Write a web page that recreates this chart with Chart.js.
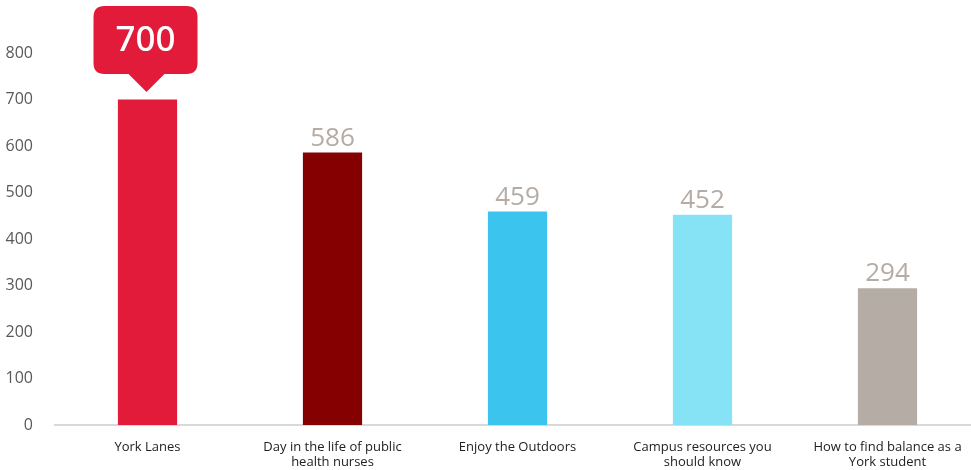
<!DOCTYPE html>
<html>
<head>
<meta charset="utf-8">
<script src="https://cdn.jsdelivr.net/npm/chart.js@4.4.0/dist/chart.umd.min.js"></script>
<style>
  body { margin: 0; overflow: hidden; background: #fff; }
</style>
</head>
<body>
<canvas id="views" width="980" height="470"></canvas>
<script>
// data
const categories = [
  "York Lanes",
  ["Day in the life of public", "health nurses"],
  "Enjoy the Outdoors",
  ["Campus resources you", "should know"],
  ["How to find balance as a", "York student"]
];
const views = [700, 586, 459, 452, 294];
const barColors = ["#e31b3b", "#850000", "#3bc4ee", "#86e2f5", "#b5aca6"];
const yTicks = [0, 100, 200, 300, 400, 500, 600, 700, 800];

const FONT = "'Open Sans', 'Noto Sans', sans-serif";

// labels above the bars, the top one gets the red callout
const valueLabels = {
  id: "valueLabels",
  afterDatasetsDraw(chart) {
    const ctx = chart.ctx;
    const meta = chart.getDatasetMeta(0);
    const max = Math.max(...views);
    meta.data.forEach((bar, i) => {
      const v = views[i];
      ctx.save();
      ctx.textAlign = "center";
      if (v === max) {
        const w = 104, h = 68, r = 11;
        const x0 = bar.x - w / 2 - 2, y0 = 6;
        ctx.fillStyle = "#e31b3b";
        ctx.beginPath();
        ctx.moveTo(x0 + r, y0);
        ctx.lineTo(x0 + w - r, y0);
        ctx.quadraticCurveTo(x0 + w, y0, x0 + w, y0 + r);
        ctx.lineTo(x0 + w, y0 + h - r);
        ctx.quadraticCurveTo(x0 + w, y0 + h, x0 + w - r, y0 + h);
        ctx.lineTo(bar.x + 17, y0 + h);
        ctx.lineTo(bar.x - 1, y0 + h + 18);
        ctx.lineTo(bar.x - 19, y0 + h);
        ctx.lineTo(x0 + r, y0 + h);
        ctx.quadraticCurveTo(x0, y0 + h, x0, y0 + h - r);
        ctx.lineTo(x0, y0 + r);
        ctx.quadraticCurveTo(x0, y0, x0 + r, y0);
        ctx.closePath();
        ctx.fill();
        ctx.fillStyle = "#ffffff";
        ctx.font = "500 35px 'Noto Sans', sans-serif";
        ctx.textBaseline = "middle";
        ctx.fillText(String(v), bar.x - 2, y0 + h / 2 + 1);
      } else {
        ctx.fillStyle = "#b5aca6";
        ctx.font = "26px " + FONT;
        ctx.textBaseline = "alphabetic";
        ctx.fillText(String(v), bar.x, bar.y - 7);
      }
      ctx.restore();
    });
  }
};

new Chart(document.getElementById("views"), {
  type: "bar",
  data: {
    labels: categories,
    datasets: [{
      data: views,
      backgroundColor: barColors,
      categoryPercentage: 1,
      barPercentage: 0.32
    }]
  },
  options: {
    responsive: false,
    animation: false,
    layout: { padding: { top: 53, right: 0, left: 0, bottom: 0 } },
    plugins: { legend: { display: false }, tooltip: { enabled: false } },
    scales: {
      x: {
        grid: { display: false },
        border: { display: true, color: "#d9d9d9", width: 2 },
        ticks: {
          color: "#222222",
          font: { family: FONT, size: 13 },
          padding: 6,
          maxRotation: 0,
          autoSkip: false
        },
        afterFit(scale) { scale.height = 45; }
      },
      y: {
        min: 0,
        max: 800,
        afterBuildTicks(scale) { scale.ticks = yTicks.map(v => ({ value: v })); },
        grid: { display: false },
        border: { display: false },
        ticks: {
          color: "#595959",
          font: { family: FONT, size: 16 },
          padding: 14
        },
        afterFit(scale) { scale.width = 55; }
      }
    }
  },
  plugins: [valueLabels]
});
</script>
</body>
</html>
